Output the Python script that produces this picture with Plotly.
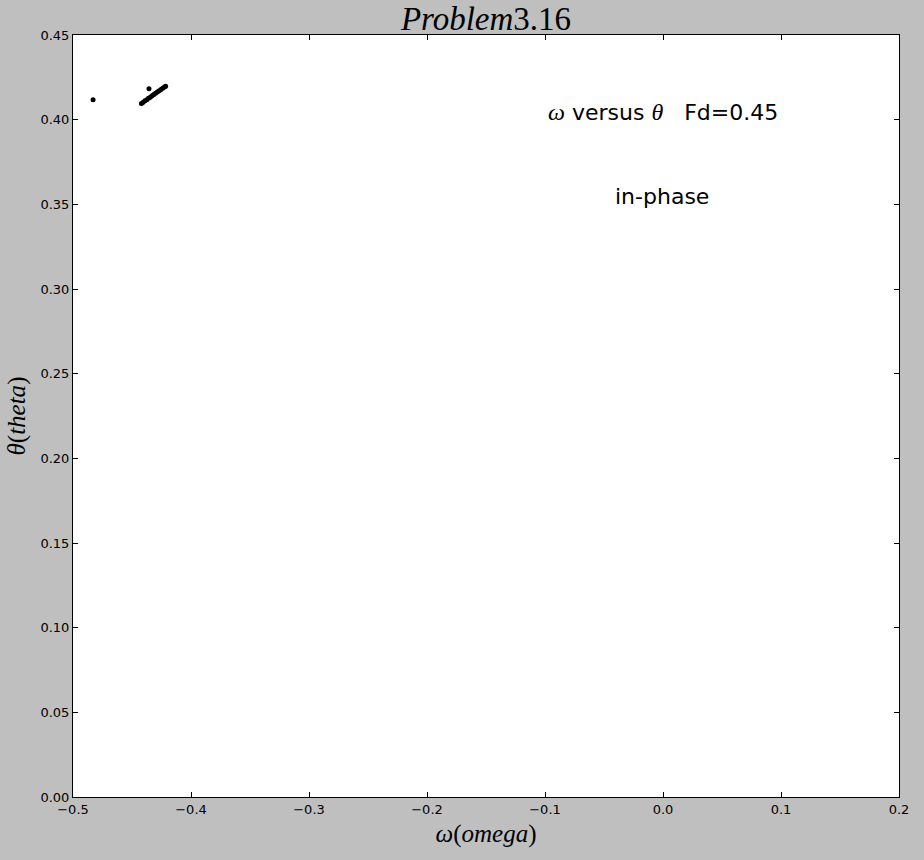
import plotly.graph_objects as go

omega = [-0.4830, -0.4356,
         -0.4420, -0.4405, -0.4390, -0.4375, -0.4360, -0.4345, -0.4330, -0.4315,
         -0.4300, -0.4285, -0.4270, -0.4255, -0.4240, -0.4225, -0.4215]
theta = [0.4117, 0.4182,
         0.4095, 0.4103, 0.4111, 0.4118, 0.4126, 0.4133, 0.4141, 0.4148,
         0.4156, 0.4163, 0.4171, 0.4178, 0.4186, 0.4193, 0.4198]

x_ticks = [-0.5, -0.4, -0.3, -0.2, -0.1, 0.0, 0.1, 0.2]
x_labels = ["\u22120.5", "\u22120.4", "\u22120.3", "\u22120.2", "\u22120.1", "0.0", "0.1", "0.2"]
y_ticks = [0.00, 0.05, 0.10, 0.15, 0.20, 0.25, 0.30, 0.35, 0.40, 0.45]
y_labels = ["%.2f" % v for v in y_ticks]

serif = "Liberation Serif"
sans = "DejaVu Sans"

fig = go.Figure()
fig.add_trace(go.Scatter(x=omega, y=theta, mode="markers",
                         marker=dict(color="black", size=5, line=dict(width=0)),
                         showlegend=False, cliponaxis=True))

fig.update_layout(
    width=924, height=860,
    paper_bgcolor="#bfbfbf", plot_bgcolor="white",
    margin=dict(l=73, r=25, t=35, b=63),
    title=dict(text="<i>Problem</i>3.16", x=486/924, xanchor="center",
               y=1 - 18/860, yanchor="middle",
               font=dict(family=serif, size=33, color="black")),
    font=dict(family=sans, size=13, color="black"),
)

axis_common = dict(showline=True, linecolor="black", linewidth=1, mirror="ticks",
                   ticks="inside", ticklen=5, tickcolor="black", showgrid=False,
                   zeroline=False, tickfont=dict(family=sans, size=13, color="black"))

fig.update_xaxes(range=[-0.5, 0.2], tickvals=x_ticks, ticktext=x_labels,
                 title=dict(text="<i>ω</i>(<i>omega</i>)",
                            font=dict(family=serif, size=25, color="black"), standoff=8),
                 **axis_common)
fig.update_yaxes(range=[0, 0.45], tickvals=y_ticks, ticktext=y_labels,
                 title=dict(text="<i>θ</i>(<i>theta</i>)",
                            font=dict(family=serif, size=25, color="black"), standoff=7),
                 **axis_common)

fig.add_annotation(x=-0.1, y=0.40, xref="x", yref="y", xanchor="left", yanchor="bottom",
                   text="<i><span style='font-family:Liberation Serif;font-size:24px'>ω</span></i> versus <i><span style='font-family:Liberation Serif;font-size:24px'>θ</span></i>   Fd=0.45",
                   showarrow=False, font=dict(family=sans, size=22, color="black"),
                   yshift=-7, xshift=1)
fig.add_annotation(x=-0.04, y=0.35, xref="x", yref="y", xanchor="left", yanchor="bottom",
                   text="in-phase", showarrow=False,
                   font=dict(family=sans, size=22, color="black"), yshift=-7, xshift=-3)

fig.write_html("out.html")
